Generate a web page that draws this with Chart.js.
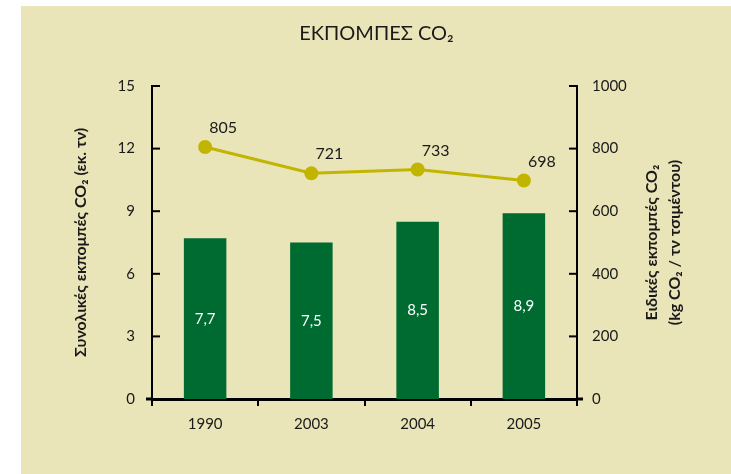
<!DOCTYPE html>
<html>
<head>
<meta charset="utf-8">
<script src="https://cdn.jsdelivr.net/npm/chart.js@4.4.1/dist/chart.umd.min.js"></script>
<style>
  html, body { margin: 0; padding: 0; background: #ffffff; }
  #wrap { position: absolute; left: 21px; top: 6px; width: 710px; height: 468px; background: #EAE4B9; }
  canvas { display: block; }
</style>
</head>
<body>
<div id="wrap"><canvas id="c" width="710" height="468"></canvas></div>
<script>
const categories = ['1990', '2003', '2004', '2005'];
const totalEmissions = [7.7, 7.5, 8.5, 8.9];      // εκ. τν (left axis)
const specificEmissions = [805, 721, 733, 698];   // kg CO2 / τν τσιμέντου (right axis)
const leftTicks = [0, 3, 6, 9, 12, 15];
const rightTicks = [0, 200, 400, 600, 800, 1000];
const chartTitle = 'ΕΚΠΟΜΠΕΣ CO₂';
const leftTitle = 'Συνολικές εκπομπές CO₂ (εκ. τν)';
const rightTitle = ['Ειδικές εκπομπές CO₂', '(kg CO₂ / τν τσιμέντου)'];

const FONT = 'Lato, "Open Sans", sans-serif';
const TEXT = '#1a1a1a';

const fmt = v => String(v).replace('.', ',');

const decor = {
  id: 'decor',
  afterDraw(chart) {
    const ctx = chart.ctx;
    const ca = chart.chartArea;
    const yl = chart.scales.y, yr = chart.scales.y2;
    ctx.save();
    ctx.strokeStyle = '#000';
    ctx.lineWidth = 2;
    leftTicks.forEach(v => {
      if (v === 0) return;
      const p = yl.getPixelForValue(v);
      ctx.beginPath(); ctx.moveTo(ca.left, p); ctx.lineTo(ca.left + 8, p); ctx.stroke();
    });
    rightTicks.forEach(v => {
      if (v === 0) return;
      const p = yr.getPixelForValue(v);
      ctx.beginPath(); ctx.moveTo(ca.right, p); ctx.lineTo(ca.right - 8, p); ctx.stroke();
    });
    const y0 = yl.getPixelForValue(0);
    ctx.lineWidth = 3;
    ctx.beginPath(); ctx.moveTo(ca.left - 6, y0); ctx.lineTo(ca.left, y0); ctx.stroke();
    ctx.beginPath(); ctx.moveTo(ca.right, y0); ctx.lineTo(ca.right + 6, y0); ctx.stroke();

    ctx.fillStyle = TEXT;
    ctx.textAlign = 'center';
    ctx.textBaseline = 'middle';
    ctx.font = '20px ' + FONT;
    ctx.fillText(chartTitle, (ca.left + ca.right) / 2 + 12, 28);

    const midY = (ca.top + ca.bottom) / 2;
    ctx.font = 'bold 16px ' + FONT;
    ctx.save();
    ctx.translate(60, midY);
    ctx.rotate(-Math.PI / 2);
    ctx.fillText(leftTitle, 0, 0);
    ctx.restore();
    rightTitle.forEach((t, i) => {
      ctx.save();
      ctx.translate(631 + i * 23, midY);
      ctx.rotate(-Math.PI / 2);
      ctx.fillText(t, 0, 0);
      ctx.restore();
    });

    const barMeta = chart.getDatasetMeta(1);
    ctx.font = '15px ' + FONT;
    ctx.fillStyle = '#ffffff';
    barMeta.data.forEach((el, i) => {
      const yc = (el.y + el.base) / 2;
      ctx.fillText(fmt(totalEmissions[i]), el.x, yc);
    });
    const lineMeta = chart.getDatasetMeta(0);
    ctx.fillStyle = TEXT;
    ctx.font = '16px ' + FONT;
    lineMeta.data.forEach((el, i) => {
      ctx.fillText(String(specificEmissions[i]), el.x + 18, el.y - 19);
    });
    ctx.restore();
  }
};

new Chart(document.getElementById('c'), {
  type: 'bar',
  data: {
    labels: categories,
    datasets: [
      {
        type: 'line',
        data: specificEmissions,
        yAxisID: 'y2',
        borderColor: '#C2B500',
        backgroundColor: '#C2B500',
        borderWidth: 3,
        pointRadius: 7,
        pointHoverRadius: 7,
        pointBackgroundColor: '#C2B500',
        pointBorderWidth: 0,
        tension: 0,
        order: 0
      },
      {
        type: 'bar',
        data: totalEmissions,
        yAxisID: 'y',
        backgroundColor: '#006B31',
        barPercentage: 0.4,
        categoryPercentage: 1,
        order: 1
      }
    ]
  },
  options: {
    responsive: false,
    animation: false,
    devicePixelRatio: 1,
    layout: { padding: { top: 80, left: 0, right: 0, bottom: 0 } },
    plugins: { legend: { display: false }, tooltip: { enabled: false }, title: { display: false } },
    scales: {
      x: {
        offset: true,
        grid: { display: true, drawOnChartArea: false, drawTicks: true, tickLength: 7, color: '#000', lineWidth: 2, offset: true },
        border: { display: true, color: '#000', width: 3 },
        ticks: { color: TEXT, font: { family: FONT, size: 15 }, padding: 9 },
        afterFit(s) { s.height = 75; }
      },
      y: {
        position: 'left',
        min: 0, max: 15,
        afterBuildTicks(s) { s.ticks = leftTicks.map(v => ({ value: v })); },
        grid: { display: false, drawTicks: false },
        border: { display: true, color: '#000', width: 2 },
        ticks: { color: TEXT, font: { family: FONT, size: 15 }, padding: 17, callback: v => String(v) },
        afterFit(s) { s.width = 131; }
      },
      y2: {
        position: 'right',
        min: 0, max: 1000,
        afterBuildTicks(s) { s.ticks = rightTicks.map(v => ({ value: v })); },
        grid: { display: false, drawTicks: false },
        border: { display: true, color: '#000', width: 2 },
        ticks: { color: TEXT, font: { family: FONT, size: 15 }, padding: 15, callback: v => String(v) },
        afterFit(s) { s.width = 154; }
      }
    }
  },
  plugins: [decor]
});
</script>
</body>
</html>
